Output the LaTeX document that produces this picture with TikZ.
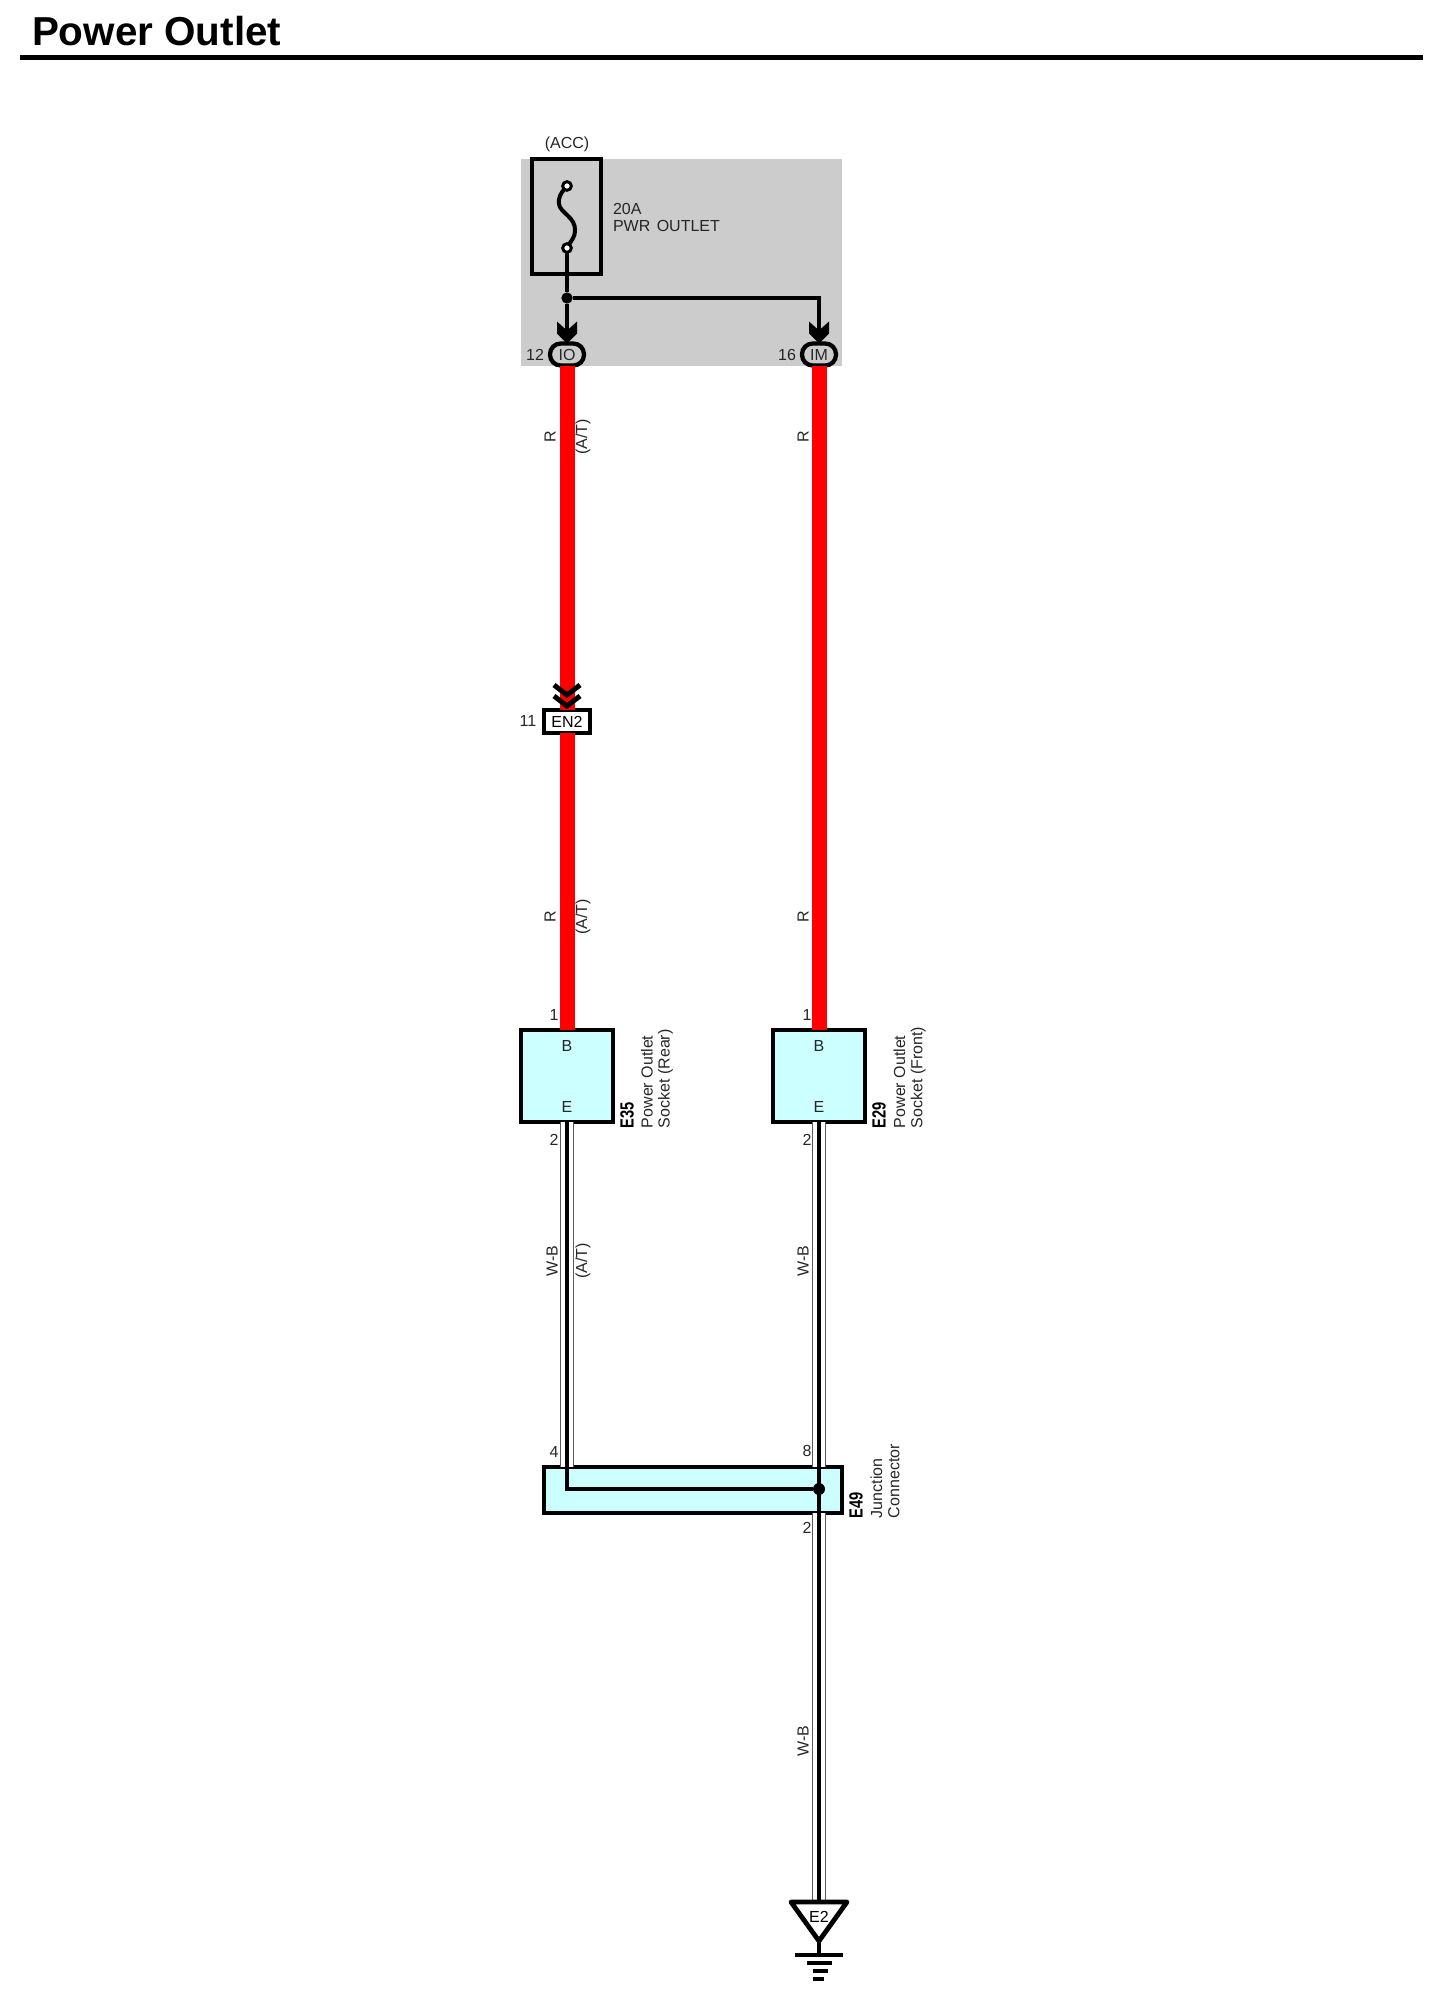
\documentclass[tikz,border=0pt]{standalone}
\usepackage{fontspec}
\setmainfont{Liberation Sans}
\definecolor{relaygray}{RGB}{204,204,204}
\definecolor{compcyan}{RGB}{204,255,255}
\definecolor{cablered}{RGB}{255,0,0}
\tikzset{
  every node/.style={inner sep=0pt,outer sep=0pt},
  lbl/.style={font=\fontsize{12}{14}\selectfont,text=black!85},
  lblv/.style={lbl,rotate=90},
  lblname/.style={font=\bfseries\fontsize{11}{13}\selectfont,rotate=90,anchor=west},
  lblcomp/.style={font=\fontsize{12}{12.9}\selectfont,rotate=90,anchor=west,align=left,text=black!85},
  compbox/.style={draw,line width=3.4pt,fill=compcyan,minimum width=69pt,minimum height=69pt},
  pinoval/.style={draw,line width=3.2pt,fill=relaygray,rounded corners=8pt,minimum width=25.5pt,minimum height=16.5pt,font=\fontsize{12}{14}\selectfont,text=black!85},
  redwire/.style={line width=11.25pt,cablered},
  blkwire/.style={line width=3pt,black,preaction={draw=black!65,line width=10.2pt},preaction={draw=white,line width=8.6pt}},
  inwire/.style={line width=2.3pt,black},
  fusepin/.style={circle,draw,line width=2.2pt,fill=white,minimum size=6.5pt},
  dotjoin/.style={circle,fill=black,minimum size=#1},
}
\newcommand{\pinarrow}[1]{\fill[shift={(#1)}] (-10,-22) -- (0,-13) -- (10,-22) -- (10,-10) -- (0,0) -- (-10,-10) -- cycle;}
\begin{document}
\begin{tikzpicture}[x=0.75pt,y=0.75pt,yscale=-1,xscale=1]
	\useasboundingbox (0,0) rectangle (1434,1996);

	% Title and rule
	\node [anchor=base west,font=\bfseries\fontsize{30.3}{34}\selectfont] (title) at (32,45) {Power Outlet};
	\coordinate (ruleL) at (20,57);
	\coordinate (ruleR) at (1423,57);
	\draw [line width=3.75pt] (ruleL) -- (ruleR);

	% Relay block
	\node [fill=relaygray,minimum width=240.75pt,minimum height=155.25pt] (block) at (681.5,262.5) {};
	\node [draw,line width=3.6pt,minimum width=51.75pt,minimum height=86.25pt] (fuse) at (566.5,216.5) {};
	\node [lbl] (acc) at (567,144) {(ACC)};
	\node [lbl,align=left,anchor=west] (fuselbl) at (613,217.5) {20A\\[-1.8pt]PWR\hspace{1.5pt} OUTLET};
	\node [fusepin] (fusea) at (567,186) {};
	\node [fusepin] (fuseb) at (567,248) {};
	\node [dotjoin=8.5pt] (fj) at (567,298) {};
	\node [pinoval] (io) at (567,354.5) {IO};
	\node [pinoval] (im) at (819,354.5) {IM};
	\node [lbl] (pin12) at (535,355) {12};
	\node [lbl] (pin16) at (787,355) {16};

	% Inline connector
	\node [draw,line width=3.2pt,fill=white,minimum width=35pt,minimum height=17.25pt,font=\fontsize{12}{14}\selectfont] (en2) at (567,721.5) {EN2};
	\node [lbl] (pin11) at (528,721) {11};

	% Sockets
	\node [compbox] (sockr) at (567,1076) {};
	\node [compbox] (sockf) at (819,1076) {};
	\node [lbl] (sockrb) at (567,1046) {B};
	\node [lbl] (sockre) at (567,1107) {E};
	\node [lbl] (sockfb) at (819,1046) {B};
	\node [lbl] (sockfe) at (819,1107) {E};
	\node [lbl] (pinr1) at (554,1015) {1};
	\node [lbl] (pinr2) at (554,1140) {2};
	\node [lbl] (pinf1) at (807,1015) {1};
	\node [lbl] (pinf2) at (807,1140) {2};
	\node [lblname] (e35) at (627,1128) {\scalebox{1}[1.3]{E35}};
	\node [lblname] (e29) at (879,1128) {\scalebox{1}[1.3]{E29}};
	\node [lblcomp] (sockrlbl) at (657,1128) {Power Outlet\\Socket (Rear)};
	\node [lblcomp] (sockflbl) at (909.5,1128) {Power Outlet\\Socket (Front)};

	% Junction connector
	\node [compbox,minimum width=223.5pt,minimum height=34.5pt] (jbox) at (693,1490) {};
	\coordinate (jl) at (567,1489);
	\node [dotjoin=9pt] (jr) at (819,1489) {};
	\node [lbl] (pinj4) at (554,1452) {4};
	\node [lbl] (pinj8) at (807,1451) {8};
	\node [lbl] (pinj2) at (807,1528) {2};
	\node [lblname] (e49) at (856,1518) {\scalebox{1}[1.3]{E49}};
	\node [lblcomp] (jlbl) at (885,1518) {Junction\\Connector};

	% Ground
	\coordinate (gndtop) at (819,1902);
	\coordinate (gndl) at (791,1902);
	\coordinate (gndr) at (847,1902);
	\coordinate (gndtip) at (819,1941);
	\coordinate (gndstem) at (819,1955);
	\node [font=\fontsize{12}{14}\selectfont] (e2) at (819,1917) {E2};

	%Straight Lines (red)
	\draw [redwire] (io) -- (en2);
	\draw [redwire] (en2) -- (sockr);
	\draw [redwire] (im) -- (sockf);
	\draw [line width=3.75pt] (554,685) -- (567,695) -- (580,685);
	\draw [line width=3.75pt] (554,696) -- (567,706) -- (580,696);

	%Straight Lines (black)
	\draw [blkwire] (sockr) -- (jl |- jbox.north);
	\draw [blkwire] (sockf) -- (jr |- jbox.north);
	\draw [blkwire] (jr |- jbox.south) -- (gndtop);
	\draw [inwire] (jl |- jbox.north) -- (jl) -- (jr);
	\draw [line width=3pt] (jr |- jbox.north) -- (jr |- jbox.south);

	%Fuse and block wiring
	\draw [line width=3pt] (fusea) .. controls (561,193) and (558,198) .. (559,204) .. controls (560,213) and (576,217) .. (575,231) .. controls (575,237) and (571,241) .. (fuseb);
	\draw [line width=3pt] (fuseb) -- (fj) -- (io);
	\draw [line width=3pt] (fj) -| (im);
	\pinarrow{io.north}
	\pinarrow{im.north}

	%Ground symbol
	\draw [line width=3.6pt,line join=round] (gndl) -- (gndr) -- (gndtip) -- cycle;
	\draw [line width=2.8pt] (gndtip) -- (gndstem);
	\draw [line width=2.4pt] (795,1955) -- (843,1955);
	\draw [line width=2.4pt] (807,1963) -- (832,1963);
	\draw [line width=2.4pt] (813,1971) -- (828,1971);
	\draw [line width=2.4pt] (813,1979) -- (824,1979);

	% Text Node
	\node [lblv] (wr1) at (550,437) {R};
	\node [lblv] (wat1) at (583,437) {(A/T)};
	\node [lblv] (wr2) at (803,437) {R};
	\node [lblv] (wr3) at (550,917) {R};
	\node [lblv] (wat2) at (583,917) {(A/T)};
	\node [lblv] (wr4) at (803,917) {R};
	\node [lblv] (wb1) at (552,1261) {W-B};
	\node [lblv] (wat3) at (583,1261) {(A/T)};
	\node [lblv] (wb2) at (803,1261) {W-B};
	\node [lblv] (wb3) at (803,1741) {W-B};

\end{tikzpicture}
\end{document}
